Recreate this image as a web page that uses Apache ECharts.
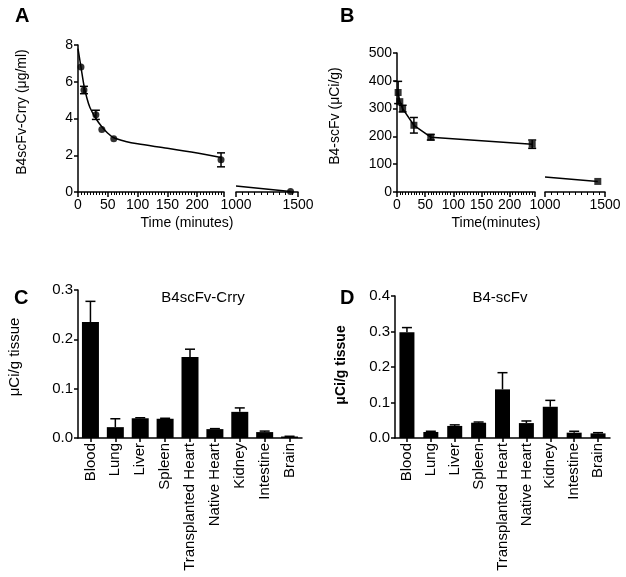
<!DOCTYPE html>
<html>
<head>
<meta charset="utf-8">
<script src="https://cdn.jsdelivr.net/npm/echarts@6/dist/echarts.min.js"></script>
<style>
html,body{margin:0;padding:0;background:#fff;}
#main{width:626px;height:577px;}
</style>
</head>
<body>
<div id="main"></div>
<script>
// panel A - B4scFv-Crry in blood (ug/ml)
var timeA = [5, 10, 30, 40, 60, 240];
var meanA = [6.8, 5.55, 4.2, 3.4, 2.9, 1.75];
var errA = [0, 0.2, 0.25, 0, 0, 0.38];
var timeALate = [1440];
var meanALate = [0.03];
// fitted curve
var fitTimeA = [0, 5, 10, 15, 20, 30, 40, 50, 60, 80, 100, 150, 200, 240];
var fitA = [7.8, 6.8, 5.8, 5.1, 4.6, 4.0, 3.55, 3.2, 2.95, 2.75, 2.62, 2.38, 2.12, 1.88];
var fitTimeALate = [1000, 1440];
var fitALate = [0.33, 0.03];

// panel B - B4-scFv (uCi/g)
var timeB = [2, 5, 10, 30, 60, 240];
var meanB = [358, 325, 300, 240, 197, 172];
var errB = [40, 0, 12, 28, 10, 15];
var timeBLate = [1440];
var meanBLate = [38];
var lineTimeBLate = [1000, 1440];
var lineBLate = [54, 38];

// tick labels of the first part of the broken time axis
var earlyTicks = [0, 50, 100, 150, 200];

// panels C, D - biodistribution
var organs = ['Blood', 'Lung', 'Liver', 'Spleen', 'Transplanted Heart', 'Native Heart', 'Kidney', 'Intestine', 'Brain'];
var meanC = [0.235, 0.022, 0.040, 0.039, 0.164, 0.018, 0.053, 0.012, 0.003];
var errC = [0.042, 0.017, 0.001, 0.001, 0.016, 0.001, 0.008, 0.002, 0.0005];
var meanD = [0.298, 0.017, 0.034, 0.043, 0.137, 0.042, 0.088, 0.015, 0.013];
var errD = [0.013, 0.002, 0.003, 0.002, 0.047, 0.006, 0.018, 0.004, 0.002];

var FONT = 'Liberation Sans, Arial, sans-serif';
var BLACK = '#000';

function zip(xs, ys){
	return xs.map(function(x, i){ return [x, ys[i]]; });
}
// [x, low, high] for points with error
function errRange(xs, m, e, upOnly){
	var out = [];
	for (var i = 0; i < xs.length; i++) {
		if (e[i] > 0) out.push([xs[i], upOnly ? m[i] : m[i] - e[i], m[i] + e[i]]);
	}
	return out;
}
function errRender(capHalf, lowCap){
	return function(params, api){
		var lo = api.coord([api.value(0), api.value(1)]);
		var hi = api.coord([api.value(0), api.value(2)]);
		var st = {stroke: BLACK, lineWidth: 1.5};
		var kids = [
			{type:'line', shape:{x1:hi[0], y1:hi[1], x2:lo[0], y2:lo[1]}, style:st},
			{type:'line', shape:{x1:hi[0]-capHalf, y1:hi[1], x2:hi[0]+capHalf, y2:hi[1]}, style:st}
		];
		if (lowCap) kids.push({type:'line', shape:{x1:lo[0]-capHalf, y1:lo[1], x2:lo[0]+capHalf, y2:lo[1]}, style:st});
		return {type:'group', children:kids};
	};
}

var axLine = {lineStyle:{color:BLACK, width:1.5}};
function timeAxis(grid, min, max, interval, showLabels){
	return {
		gridIndex:grid, type:'value', position:'bottom', min:min, max:max, interval:interval,
		axisLine:axLine,
		axisTick:{length:5, lineStyle:{color:BLACK, width:1.5}},
		minorTick:{show:true, splitNumber:10, length:3, lineStyle:{color:BLACK, width:1}},
		splitLine:{show:false},
		axisLabel:{show:showLabels, color:BLACK, fontSize:14, fontFamily:FONT, margin:6,
			formatter:function(v){ return String(v); }}
	};
}
function valAxis(grid, max, interval, show, dec){
	return {
		gridIndex:grid, type:'value', min:0, max:max, interval:interval, show:show,
		axisLine:{show:true, lineStyle:{color:BLACK, width:1.5}},
		axisTick:{show:true, length:4, lineStyle:{color:BLACK, width:1.5}},
		splitLine:{show:false},
		axisLabel:{color:BLACK, fontSize:dec ? 15 : 14, fontFamily:FONT, margin:5,
			formatter:function(v){ return dec ? v.toFixed(1) : String(v); }}
	};
}
function catAxis(grid){
	return {
		gridIndex:grid, type:'category', data:organs,
		axisLine:axLine,
		axisTick:{show:true, alignWithLabel:true, length:4, lineStyle:{color:BLACK, width:1.5}},
		axisLabel:{color:BLACK, fontSize:15, fontFamily:FONT, rotate:90, margin:5, interval:0}
	};
}
function txt(x, y, s, font, rot){
	return {type:'text', x:x, y:y, rotation:rot || 0, z:100,
		style:{text:s, font:font, fill:BLACK, textAlign:'center', textVerticalAlign:'middle'}};
}

var myChart = echarts.init(document.getElementById('main'), null, {renderer:'canvas'});

var option = {
	animation:false,
	backgroundColor:'#fff',
	grid:[
		{left:78, top:45, width:146, height:147, outerBoundsMode:'none'},
		{left:236, top:45, width:62, height:147, outerBoundsMode:'none'},
		{left:397, top:53, width:138, height:139, outerBoundsMode:'none'},
		{left:545, top:53, width:60, height:139, outerBoundsMode:'none'},
		{left:78, top:290, width:224, height:148, outerBoundsMode:'none'},
		{left:395, top:296, width:215, height:142, outerBoundsMode:'none'}
	],
	xAxis:[
		timeAxis(0, 0, 245, 50, false),
		timeAxis(1, 1000, 1500, 500, true),
		timeAxis(2, 0, 245, 50, false),
		timeAxis(3, 1000, 1500, 500, true),
		catAxis(4),
		catAxis(5)
	],
	yAxis:[
		valAxis(0, 8, 2, true, false),
		valAxis(1, 8, 2, false, false),
		valAxis(2, 500, 100, true, false),
		valAxis(3, 500, 100, false, false),
		valAxis(4, 0.3, 0.1, true, true),
		valAxis(5, 0.4, 0.1, true, true)
	],
	series:[
		// A
		{type:'line', xAxisIndex:0, yAxisIndex:0, data:zip(fitTimeA, fitA), smooth:0.3, showSymbol:false,
			lineStyle:{color:BLACK, width:1.5}, z:2},
		{type:'custom', xAxisIndex:0, yAxisIndex:0, data:errRange(timeA, meanA, errA, false),
			renderItem:errRender(4, true), z:3},
		{type:'scatter', xAxisIndex:0, yAxisIndex:0, data:zip(timeA, meanA), symbol:'circle', symbolSize:7,
			itemStyle:{color:BLACK}, z:4},
		{type:'line', xAxisIndex:1, yAxisIndex:1, data:zip(fitTimeALate, fitALate), showSymbol:false,
			lineStyle:{color:BLACK, width:1.5}, z:2},
		{type:'scatter', xAxisIndex:1, yAxisIndex:1, data:zip(timeALate, meanALate), symbol:'circle', symbolSize:7,
			itemStyle:{color:BLACK}, z:4},
		// B
		{type:'line', xAxisIndex:2, yAxisIndex:2, data:zip(timeB, meanB), showSymbol:false,
			lineStyle:{color:BLACK, width:1.5}, z:2},
		{type:'custom', xAxisIndex:2, yAxisIndex:2, data:errRange(timeB, meanB, errB, false),
			renderItem:errRender(4, true), z:3},
		{type:'scatter', xAxisIndex:2, yAxisIndex:2, data:zip(timeB, meanB), symbol:'rect', symbolSize:7,
			itemStyle:{color:BLACK}, z:4},
		{type:'line', xAxisIndex:3, yAxisIndex:3, data:zip(lineTimeBLate, lineBLate), showSymbol:false,
			lineStyle:{color:BLACK, width:1.5}, z:2},
		{type:'scatter', xAxisIndex:3, yAxisIndex:3, data:zip(timeBLate, meanBLate), symbol:'rect', symbolSize:7,
			itemStyle:{color:BLACK}, z:4},
		// C
		{type:'bar', xAxisIndex:4, yAxisIndex:4, data:meanC, barWidth:17, itemStyle:{color:BLACK}, z:2},
		{type:'custom', xAxisIndex:4, yAxisIndex:4, data:errRange(organs.map(function(o, i){ return i; }), meanC, errC, true),
			renderItem:errRender(5, false), z:3},
		// D
		{type:'bar', xAxisIndex:5, yAxisIndex:5, data:meanD, barWidth:15, itemStyle:{color:BLACK}, z:2},
		{type:'custom', xAxisIndex:5, yAxisIndex:5, data:errRange(organs.map(function(o, i){ return i; }), meanD, errD, true),
			renderItem:errRender(5, false), z:3}
	]
};
myChart.setOption(option);

// titles, plus the early time tick labels placed with the axis scale
var F14 = '14px ' + FONT, F15 = '15px ' + FONT;
var texts = [
	{type:'text', left:15, top:6, style:{text:'A', font:'bold 20px ' + FONT, fill:BLACK}},
	{type:'text', left:340, top:6, style:{text:'B', font:'bold 20px ' + FONT, fill:BLACK}},
	{type:'text', left:14, top:288, style:{text:'C', font:'bold 20px ' + FONT, fill:BLACK}},
	{type:'text', left:340, top:288, style:{text:'D', font:'bold 20px ' + FONT, fill:BLACK}},
	txt(22, 112, 'B4scFv-Crry (μg/ml)', F14, Math.PI/2),
	txt(335, 116, 'B4-scFv (μCi/g)', F14, Math.PI/2),
	txt(187, 223, 'Time (minutes)', F14),
	txt(496, 223, 'Time(minutes)', F14),
	txt(15, 357, 'μCi/g tissue', F15, Math.PI/2),
	txt(341, 365, 'μCi/g tissue', 'bold 14px ' + FONT, Math.PI/2),
	txt(203, 298, 'B4scFv-Crry', F15),
	txt(500, 298, 'B4-scFv', F15)
];
[[0, 0], [2, 2]].forEach(function(ax){
	var y0 = myChart.convertToPixel({yAxisIndex:ax[1]}, 0);
	earlyTicks.forEach(function(v){
		var x = myChart.convertToPixel({xAxisIndex:ax[0]}, v);
		texts.push(txt(x, y0 + 13, String(v), F14));
	});
});
myChart.setOption({graphic:texts});
</script>
</body>
</html>
